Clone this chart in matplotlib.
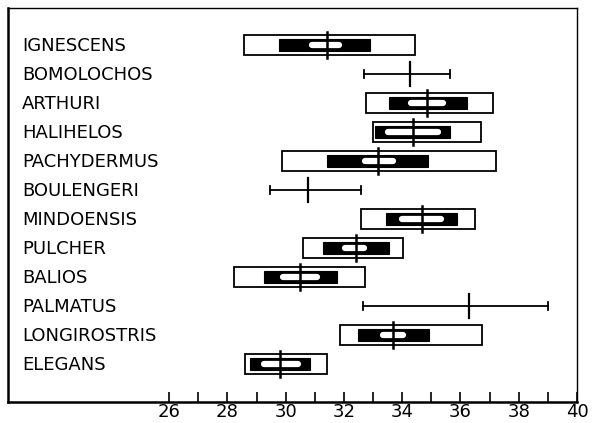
import numpy as np
import matplotlib
matplotlib.use("Agg")
import matplotlib.pyplot as plt
from matplotlib.patches import Rectangle
from matplotlib.transforms import blended_transform_factory


# --------------------------------------------------
# Data
# --------------------------------------------------

species = ["IGNESCENS", "BOMOLOCHOS", "ARTHURI", "HALIHELOS", "PACHYDERMUS",
           "BOULENGERI", "MINDOENSIS", "PULCHER", "BALIOS", "PALMATUS",
           "LONGIROSTRIS", "ELEGANS"]

mean = [31.41, 34.27, 34.86, 34.38, 33.18, 30.75,
        34.67, 32.41, 30.50, 36.31, 33.69, 29.81]

# outer hollow box, or plain range line for the small samples
outer_lo = [28.57, 32.68, 32.76, 33.01, 29.87, 29.47,
            32.58, 30.59, 28.21, 32.67, 31.87, 28.61]
outer_hi = [34.45, 35.64, 37.11, 36.70, 37.22, 32.60,
            36.49, 34.02, 32.73, 39.02, 36.73, 31.41]

nan = np.nan
black_lo = [29.77, nan, 33.55, 33.05, 31.43, nan,
            33.45, 31.27, 29.27, nan, 32.50, 28.78]
black_hi = [32.90, nan, 36.22, 35.64, 34.87, nan,
            35.89, 33.56, 31.76, nan, 34.92, 30.84]

white_lo = [30.80, nan, 34.21, 33.41, 32.63, nan,
            33.90, 31.92, 29.81, nan, 33.24, 29.15]
white_hi = [31.93, nan, 35.51, 35.33, 33.79, nan,
            35.44, 32.78, 31.18, nan, 34.13, 30.53]

ticks = list(range(26, 41))
tick_labels = [str(t) if t % 2 == 0 else "" for t in ticks]


# --------------------------------------------------
# Plot
# --------------------------------------------------

fig = plt.figure(figsize=(5.97, 4.23), dpi=100)
ax = fig.add_axes([8 / 597, 21 / 423, 569 / 597, 394 / 423])

for i, name in enumerate(species):
    y = i
    if np.isnan(black_lo[i]):
        # range only
        ax.plot([outer_lo[i], outer_hi[i]], [y, y], color="black", lw=1.3)
        for xe in (outer_lo[i], outer_hi[i]):
            ax.plot([xe, xe], [y - 0.13, y + 0.13], color="black", lw=1.3)
        ax.plot([mean[i], mean[i]], [y - 0.42, y + 0.42], color="black", lw=1.6)
        continue

    ax.add_patch(Rectangle((outer_lo[i], y - 0.34), outer_hi[i] - outer_lo[i], 0.68,
                           facecolor="white", edgecolor="black", lw=1.3))
    ax.add_patch(Rectangle((black_lo[i], y - 0.2), black_hi[i] - black_lo[i], 0.4,
                           facecolor="black", edgecolor="black", lw=0.8))
    ax.plot([white_lo[i] + 0.1, white_hi[i] - 0.1], [y, y], color="white",
            lw=4.5, solid_capstyle="round")
    ax.plot([mean[i], mean[i]], [y - 0.44, y + 0.44], color="black", lw=1.8)

# species names inside the frame
trans = blended_transform_factory(ax.transAxes, ax.transData)
for i, name in enumerate(species):
    ax.text(0.025, i + 0.03, name, transform=trans, ha="left", va="center",
            fontsize=13, color="black")

ax.set_xlim(20.47, 40)
ax.set_ylim(len(species) - 1 + 1.31, -1.28)

ax.set_xticks(ticks)
ax.set_xticklabels(tick_labels, fontsize=13)
ax.tick_params(axis="x", direction="in", length=7, width=1.2, pad=1)
ax.set_yticks([])

for side in ("left", "bottom"):
    ax.spines[side].set_linewidth(1.8)
for side in ("top", "right"):
    ax.spines[side].set_linewidth(1.0)

fig.savefig("out.png", dpi=100)
